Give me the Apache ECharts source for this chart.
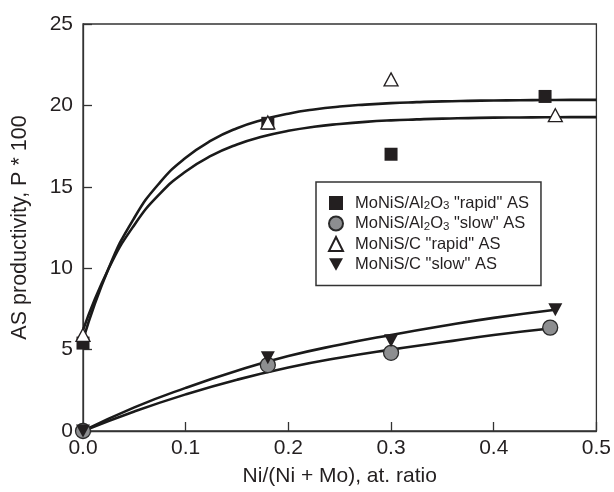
<!DOCTYPE html>
<html>
<head>
<meta charset="utf-8">
<script src="https://cdn.jsdelivr.net/npm/echarts@6/dist/echarts.min.js"></script>
<style>
  html, body { margin: 0; padding: 0; background: #fff; }
  #chart { width: 614px; height: 492px; }
</style>
</head>
<body>
<div id="chart"></div>
<script>
// Tick labels
const xTickLabels = ['0.0', '0.1', '0.2', '0.3', '0.4', '0.5'];
const yTickLabels = ['0', '5', '10', '15', '20', '25'];

// Series names
const nameRapidAl = 'MoNiS/Al2O3 "rapid" AS';
const nameSlowAl = 'MoNiS/Al2O3 "slow" AS';
const nameRapidC = 'MoNiS/C "rapid" AS';
const nameSlowC = 'MoNiS/C "slow" AS';

// Measured points: [Ni/(Ni+Mo), productivity]
const rapidAlPoints = [[0, 5.4], [0.18, 18.9], [0.30, 17.0], [0.45, 20.55]];
const slowAlPoints = [[0, 0], [0.18, 4.05], [0.30, 4.8], [0.455, 6.35]];
const rapidCPoints = [[0, 5.9], [0.18, 18.95], [0.30, 21.6], [0.46, 19.4]];
const slowCPoints = [[0, 0], [0.18, 4.5], [0.30, 5.55], [0.46, 7.45]];

// Trend curves: x positions and the curve values at them
const rapidCurveX = [0, 0.025, 0.05, 0.075, 0.10, 0.125, 0.15, 0.175, 0.20, 0.225, 0.25,
                     0.275, 0.30, 0.325, 0.35, 0.375, 0.40, 0.425, 0.45, 0.475, 0.50];
const rapidAlCurveY = [5.6, 10.0, 13.1, 15.27, 16.78, 17.85, 18.6, 19.12, 19.49, 19.75, 19.93,
                       20.05, 20.14, 20.2, 20.25, 20.28, 20.3, 20.32, 20.33, 20.34, 20.34];
const rapidCCurveY = [6.2, 9.98, 12.66, 14.58, 15.94, 16.91, 17.6, 18.09, 18.44, 18.69, 18.86,
                      18.99, 19.08, 19.14, 19.19, 19.22, 19.25, 19.26, 19.27, 19.28, 19.28];

const slowCCurveX = [0, 0.05, 0.10, 0.15, 0.20, 0.25, 0.30, 0.35, 0.40, 0.46];
const slowCCurveY = [0, 1.45, 2.65, 3.7, 4.6, 5.3, 5.9, 6.45, 6.95, 7.45];
const slowAlCurveX = [0, 0.05, 0.10, 0.15, 0.20, 0.25, 0.30, 0.35, 0.40, 0.455];
const slowAlCurveY = [0, 1.2, 2.25, 3.15, 3.9, 4.5, 5.0, 5.45, 5.9, 6.3];

function zip(xs, ys) { return xs.map((x, i) => [x, ys[i]]); }

const FONT = 'Liberation Sans, Arial, Helvetica, sans-serif';
const INK = '#231f20';

const legendRich = {
  [nameRapidAl]: 'MoNiS/Al{s|2}O{s|3} "rapid" AS',
  [nameSlowAl]: 'MoNiS/Al{s|2}O{s|3} "slow" AS',
  [nameRapidC]: 'MoNiS/C "rapid" AS',
  [nameSlowC]: 'MoNiS/C "slow" AS'
};

function curve(data) {
  return {
    type: 'line',
    data: data,
    showSymbol: false,
    symbol: 'none',
    smooth: 0.5,
    silent: true,
    z: 2,
    lineStyle: { color: '#1a1a1a', width: 2.6 }
  };
}

const chart = echarts.init(document.getElementById('chart'), null, { renderer: 'canvas' });

chart.setOption({
  animation: false,
  backgroundColor: '#fff',
  textStyle: { fontFamily: FONT, color: INK },
  grid: {
    left: 83, right: 15, top: 24, bottom: 58,
    show: true, borderColor: '#333', borderWidth: 1.3, backgroundColor: 'transparent'
  },
  xAxis: {
    type: 'value',
    min: 0, max: 0.5, interval: 0.1,
    name: 'Ni/(Ni + Mo), at. ratio',
    nameLocation: 'middle',
    nameGap: 35,
    nameTextStyle: { fontSize: 21, color: INK, fontFamily: FONT },
    axisLine: { lineStyle: { color: '#333', width: 1.3 } },
    axisTick: { inside: true, length: 9, lineStyle: { color: '#333', width: 1.3 } },
    splitLine: { show: false },
    axisLabel: {
      fontSize: 21, color: INK, fontFamily: FONT, margin: 7,
      formatter: v => xTickLabels[Math.round(v * 10)]
    }
  },
  yAxis: {
    type: 'value',
    min: 0, max: 25, interval: 5,
    name: 'AS productivity, P * 100',
    nameLocation: 'middle',
    nameGap: 52,
    nameRotate: 90,
    nameTextStyle: { fontSize: 21.5, color: INK, fontFamily: FONT },
    axisLine: { lineStyle: { color: '#333', width: 1.3 } },
    axisTick: { inside: true, length: 9, lineStyle: { color: '#333', width: 1.3 } },
    splitLine: { show: false },
    axisLabel: {
      fontSize: 21, color: INK, fontFamily: FONT, margin: 10,
      formatter: v => yTickLabels[Math.round(v / 5)]
    }
  },
  legend: {
    data: [nameRapidAl, nameSlowAl, nameRapidC, nameSlowC],
    orient: 'vertical',
    left: 316, top: 182,
    padding: [12, 12, 12, 12],
    itemGap: 2.5,
    itemWidth: 14, itemHeight: 14,
    backgroundColor: '#fff',
    borderColor: '#333', borderWidth: 1.5, borderRadius: 0,
    formatter: n => legendRich[n],
    textStyle: {
      fontSize: 16.5, color: INK, fontFamily: FONT, lineHeight: 18,
      padding: [0, 0, 0, 7],
      rich: {
        s: { fontSize: 11.5, lineHeight: 11, verticalAlign: 'bottom', color: INK, fontFamily: FONT }
      }
    }
  },
  series: [
    curve(zip(rapidCurveX, rapidAlCurveY)),
    curve(zip(rapidCurveX, rapidCCurveY)),
    curve(zip(slowCCurveX, slowCCurveY)),
    curve(zip(slowAlCurveX, slowAlCurveY)),
    {
      name: nameRapidAl, type: 'scatter', data: rapidAlPoints, z: 3,
      symbol: 'rect', symbolSize: 13,
      itemStyle: { color: '#231f20', borderWidth: 0, opacity: 1 }
    },
    {
      name: nameSlowAl, type: 'scatter', data: slowAlPoints, z: 3,
      symbol: 'circle', symbolSize: 15,
      itemStyle: { color: '#8d8e90', borderColor: '#2a2a2a', borderWidth: 1.3, opacity: 1 }
    },
    {
      name: nameRapidC, type: 'scatter', data: rapidCPoints, z: 3,
      symbol: 'triangle', symbolSize: [14, 13],
      itemStyle: { color: '#fff', borderColor: '#231f20', borderWidth: 1.3, opacity: 1 }
    },
    {
      name: nameSlowC, type: 'scatter', data: slowCPoints, z: 3,
      symbol: 'path://M0,0 L10,0 L5,9 Z', symbolSize: [14, 13],
      itemStyle: { color: '#231f20', borderWidth: 0, opacity: 1 }
    }
  ]
});
</script>
</body>
</html>
